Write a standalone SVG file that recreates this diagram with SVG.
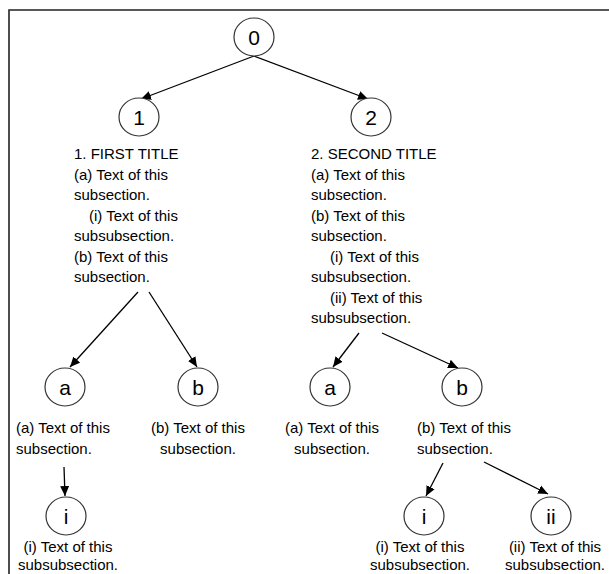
<svg xmlns="http://www.w3.org/2000/svg" width="609" height="574" viewBox="0 0 609 574">
<defs>
<marker id="ah" viewBox="0 0 10 10" refX="10" refY="5" markerWidth="10" markerHeight="10" markerUnits="userSpaceOnUse" orient="auto">
<path d="M0,0.5 L10,5 L0,9.5 Z" fill="#000"/>
</marker>
<style>
.n ellipse{fill:#fff;stroke:#333;stroke-width:1.2}
.n text{font-family:"Liberation Sans",Arial,sans-serif;font-size:21px;text-anchor:middle;fill:#000}
.t{font-family:"Liberation Sans",Arial,sans-serif;font-size:15px;fill:#000}
.c{text-anchor:middle}
#edges line{stroke:#000;stroke-width:1.3;marker-end:url(#ah)}
</style>
</defs>
<rect width="609" height="574" fill="#fff"/>
<path d="M9,574 V10 H609" fill="none" stroke="#222" stroke-width="1.6"/>
<g id="edges">
<line x1="254" y1="56" x2="141" y2="99"/>
<line x1="254" y1="56" x2="368" y2="99"/>
<line x1="138" y1="292" x2="70" y2="367"/>
<line x1="149" y1="292" x2="197" y2="367"/>
<line x1="359" y1="333" x2="333" y2="367"/>
<line x1="382" y1="333" x2="458" y2="368"/>
<line x1="64" y1="467" x2="65" y2="496"/>
<line x1="443" y1="463" x2="426" y2="496"/>
<line x1="484" y1="462" x2="548" y2="494"/>
</g>
<g id="node0" class="n"><ellipse cx="254" cy="37" rx="20" ry="19"/><text x="254" y="44.5">0</text></g>
<g id="node1" class="n"><ellipse cx="139" cy="117" rx="20" ry="19"/><text x="139" y="124.5">1</text></g>
<g id="node2" class="n"><ellipse cx="371" cy="117" rx="20" ry="19"/><text x="371" y="124.5">2</text></g>
<g id="text1" class="t">
<text x="74" y="159">1. FIRST TITLE</text>
<text x="74" y="180">(a) Text of this</text>
<text x="74" y="200">subsection.</text>
<text x="89" y="221">(i) Text of this</text>
<text x="74" y="241">subsubsection.</text>
<text x="74" y="262">(b) Text of this</text>
<text x="74" y="282">subsection.</text>
</g>
<g id="text2" class="t">
<text x="311" y="159">2. SECOND TITLE</text>
<text x="311" y="180">(a) Text of this</text>
<text x="311" y="200">subsection.</text>
<text x="311" y="221">(b) Text of this</text>
<text x="311" y="241">subsection.</text>
<text x="330" y="262">(i) Text of this</text>
<text x="311" y="282">subsubsection.</text>
<text x="330" y="303">(ii) Text of this</text>
<text x="311" y="323">subsubsection.</text>
</g>
<g id="node1a" class="n"><ellipse cx="65" cy="387" rx="20" ry="19"/><text x="65" y="394.5">a</text></g>
<g id="node1b" class="n"><ellipse cx="198" cy="387" rx="20" ry="19"/><text x="198" y="394.5">b</text></g>
<g id="node2a" class="n"><ellipse cx="330" cy="387" rx="20" ry="19"/><text x="330" y="394.5">a</text></g>
<g id="node2b" class="n"><ellipse cx="462" cy="387" rx="20" ry="19"/><text x="462" y="394.5">b</text></g>
<g id="text1a" class="t"><text x="16" y="433">(a) Text of this</text><text x="16" y="454">subsection.</text></g>
<g id="text1b" class="t c"><text x="198" y="433">(b) Text of this</text><text x="198" y="454">subsection.</text></g>
<g id="text2a" class="t c"><text x="332" y="433">(a) Text of this</text><text x="332" y="454">subsection.</text></g>
<g id="text2b" class="t"><text x="417" y="433">(b) Text of this</text><text x="417" y="454">subsection.</text></g>
<g id="node1ai" class="n"><ellipse cx="66" cy="516" rx="20" ry="19"/><text x="66" y="523.5">i</text></g>
<g id="node2bi" class="n"><ellipse cx="424" cy="516" rx="20" ry="19"/><text x="424" y="523.5">i</text></g>
<g id="node2bii" class="n"><ellipse cx="551" cy="516" rx="20" ry="19"/><text x="551" y="523.5">ii</text></g>
<g id="text1ai" class="t c"><text x="68" y="552">(i) Text of this</text><text x="68" y="570">subsubsection.</text></g>
<g id="text2bi" class="t c"><text x="420" y="552">(i) Text of this</text><text x="420" y="570">subsubsection.</text></g>
<g id="text2bii" class="t c"><text x="555" y="552">(ii) Text of this</text><text x="555" y="570">subsubsection.</text></g>
</svg>
